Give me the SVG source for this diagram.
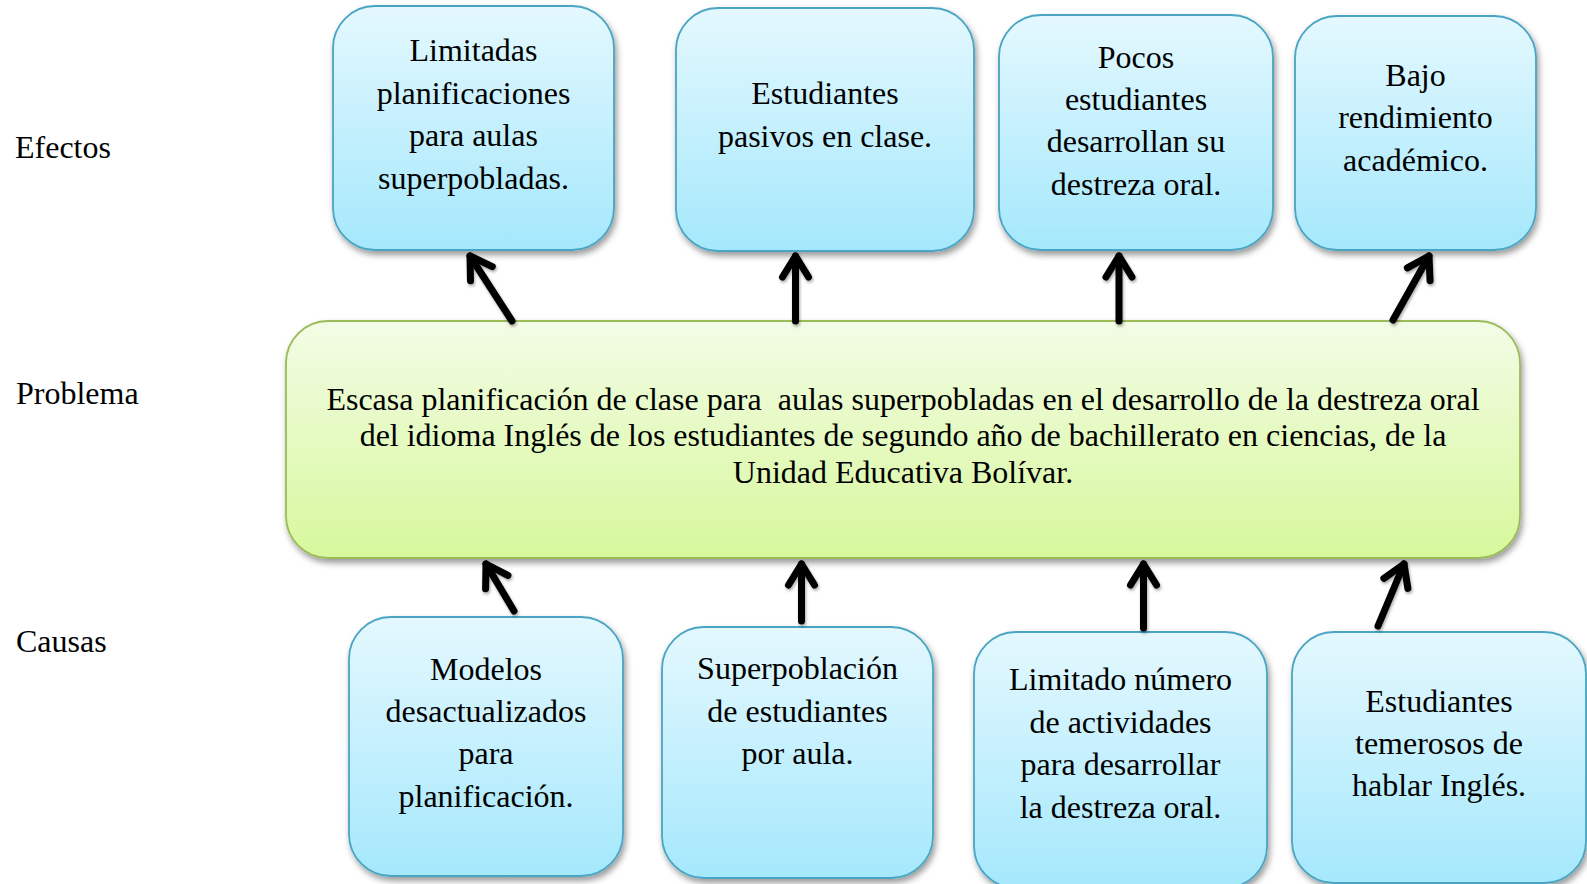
<svg xmlns="http://www.w3.org/2000/svg" width="1587" height="884" viewBox="0 0 1587 884">
<defs>
<linearGradient id="gBlue" x1="0" y1="0" x2="0" y2="1">
<stop offset="0" stop-color="#E4F8FE"/>
<stop offset="1" stop-color="#A5E8FC"/>
</linearGradient>
<linearGradient id="gGreen" x1="0" y1="0" x2="0" y2="1">
<stop offset="0" stop-color="#F3FCE6"/>
<stop offset="1" stop-color="#D7F89C"/>
</linearGradient>
<filter id="shadow" x="-10%" y="-10%" width="125%" height="130%">
<feDropShadow dx="2" dy="4" stdDeviation="3" flood-color="#000" flood-opacity="0.4"/>
</filter>
<filter id="ashadow" filterUnits="userSpaceOnUse" x="0" y="0" width="1587" height="884">
<feDropShadow dx="1" dy="2" stdDeviation="1.5" flood-color="#000" flood-opacity="0.35"/>
</filter>
<marker id="head" markerUnits="userSpaceOnUse" orient="auto" markerWidth="40" markerHeight="40" refX="0" refY="0" viewBox="-30 -20 40 40" overflow="visible">
<path d="M -21,-13 L 0,0 L -21,13" fill="none" stroke="#000" stroke-width="7" stroke-linecap="round" stroke-linejoin="round"/>
</marker>
</defs>
<style>
.blue{fill:url(#gBlue);stroke:#4AA5C3;stroke-width:1.8;filter:url(#shadow)}
.green{fill:url(#gGreen);stroke:#9BBB59;stroke-width:1.8;filter:url(#shadow)}
text{font-family:"Liberation Serif","Times New Roman",serif;font-size:32px;fill:#000}
.c{text-anchor:middle}
.arr{stroke:#000;stroke-width:7;stroke-linecap:round;fill:none;marker-end:url(#head)}
</style>
<rect width="1587" height="884" fill="#fff"/>

<g id="labels">
<text x="15" y="158">Efectos</text>
<text x="16" y="404">Problema</text>
<text x="16" y="652">Causas</text>
</g>

<g id="effect1">
<rect class="blue" x="333" y="6" width="281" height="244" rx="42"/>
<text class="c" x="473.5" y="61">Limitadas</text>
<text class="c" x="473.5" y="103.5">planificaciones</text>
<text class="c" x="473.5" y="146">para aulas</text>
<text class="c" x="473.5" y="188.5">superpobladas.</text>
</g>
<g id="effect2">
<rect class="blue" x="676" y="8" width="298" height="243" rx="42"/>
<text class="c" x="825" y="104">Estudiantes</text>
<text class="c" x="825" y="146.5">pasivos en clase.</text>
</g>
<g id="effect3">
<rect class="blue" x="999" y="15" width="274" height="235" rx="42"/>
<text class="c" x="1136" y="68">Pocos</text>
<text class="c" x="1136" y="110">estudiantes</text>
<text class="c" x="1136" y="152">desarrollan su</text>
<text class="c" x="1136" y="195">destreza oral.</text>
</g>
<g id="effect4">
<rect class="blue" x="1295" y="16" width="241" height="234" rx="42"/>
<text class="c" x="1415.5" y="85.5">Bajo</text>
<text class="c" x="1415.5" y="128">rendimiento</text>
<text class="c" x="1415.5" y="170.5">académico.</text>
</g>

<g id="problem">
<rect class="green" x="286" y="321" width="1234" height="237" rx="42"/>
<text class="c" x="903" y="409.5" xml:space="preserve">Escasa planificación de clase para  aulas superpobladas en el desarrollo de la destreza oral</text>
<text class="c" x="903" y="446">del idioma Inglés de los estudiantes de segundo año de bachillerato en ciencias, de la</text>
<text class="c" x="903" y="482.5">Unidad Educativa Bolívar.</text>
</g>

<g id="cause1">
<rect class="blue" x="349" y="617" width="274" height="259" rx="42"/>
<text class="c" x="486" y="680">Modelos</text>
<text class="c" x="486" y="722">desactualizados</text>
<text class="c" x="486" y="764">para</text>
<text class="c" x="486" y="807">planificación.</text>
</g>
<g id="cause2">
<rect class="blue" x="662" y="627" width="271" height="251" rx="42"/>
<text class="c" x="797.5" y="679">Superpoblación</text>
<text class="c" x="797.5" y="721.5">de estudiantes</text>
<text class="c" x="797.5" y="763.5">por aula.</text>
</g>
<g id="cause3">
<rect class="blue" x="974" y="632" width="293" height="256" rx="42"/>
<text class="c" x="1120.5" y="690">Limitado número</text>
<text class="c" x="1120.5" y="732.5">de actividades</text>
<text class="c" x="1120.5" y="775">para desarrollar</text>
<text class="c" x="1120.5" y="817.5">la destreza oral.</text>
</g>
<g id="cause4">
<rect class="blue" x="1292" y="632" width="294" height="251" rx="42"/>
<text class="c" x="1439" y="711.5">Estudiantes</text>
<text class="c" x="1439" y="753.5">temerosos de</text>
<text class="c" x="1439" y="796">hablar Inglés.</text>
</g>

<g id="connectors" filter="url(#ashadow)">
<line class="arr" x1="512" y1="321" x2="470" y2="256"/>
<line class="arr" x1="795.5" y1="321" x2="795.5" y2="256"/>
<line class="arr" x1="1119" y1="321" x2="1119" y2="256"/>
<line class="arr" x1="1393" y1="320" x2="1429" y2="256"/>
<line class="arr" x1="514" y1="611" x2="486" y2="564"/>
<line class="arr" x1="801.5" y1="621" x2="801.5" y2="564"/>
<line class="arr" x1="1143.5" y1="628" x2="1143.5" y2="564"/>
<line class="arr" x1="1378" y1="626" x2="1404" y2="564"/>
</g>
</svg>
